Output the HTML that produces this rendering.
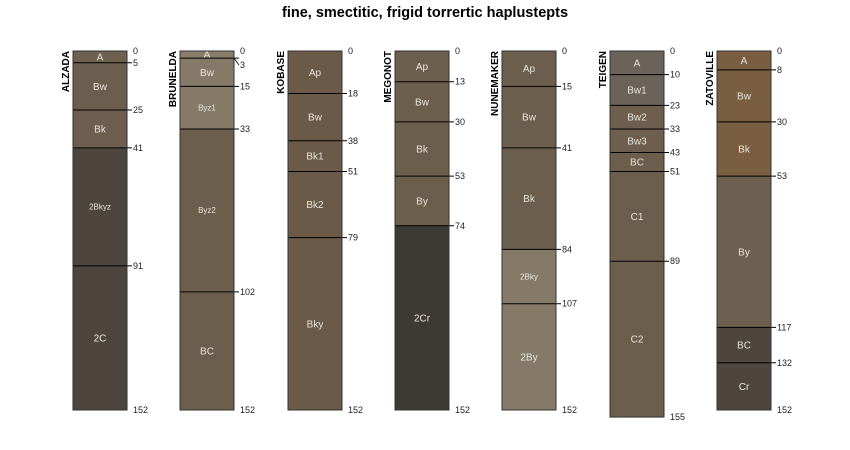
<!DOCTYPE html>
<html><head><meta charset="utf-8"><style>
html,body{margin:0;padding:0;background:#fff}
svg{display:block;font-family:"Liberation Sans",sans-serif}
</style></head><body>
<svg id="c" width="850" height="450" viewBox="0 0 850 450">
<text x="425" y="17" text-anchor="middle" font-size="14.5" font-weight="bold" fill="#000">fine, smectitic, frigid torrertic haplustepts</text>
</svg>
<script>
const profileNames = ["ALZADA","BRUNELDA","KOBASE","MEGONOT","NUNEMAKER","TEIGEN","ZATOVILLE"];
const horizonNames = [
 ["A","Bw","Bk","2Bkyz","2C"],
 ["A","Bw","Byz1","Byz2","BC"],
 ["Ap","Bw","Bk1","Bk2","Bky"],
 ["Ap","Bw","Bk","By","2Cr"],
 ["Ap","Bw","Bk","2Bky","2By"],
 ["A","Bw1","Bw2","Bw3","BC","C1","C2"],
 ["A","Bw","Bk","By","BC","Cr"]
];
const horizonDepths = [
 [0,5,25,41,91,152],
 [0,3,15,33,102,152],
 [0,18,38,51,79,152],
 [0,13,30,53,74,152],
 [0,15,41,84,107,152],
 [0,10,23,33,43,51,89,155],
 [0,8,30,53,117,132,152]
];
const horizonColors = [
 ["#6e604f","#6c5e4e","#6e5e50","#4e463e","#4e463e"],
 ["#8a7d6a","#857a68","#857a68","#6c5e4c","#6c5e4c"],
 ["#6a5a47","#6a5a47","#6a5a47","#6a5a47","#6a5a47"],
 ["#6c5e4c","#6c5e4c","#6c5e4c","#6c5e4c","#3d3a33"],
 ["#6c5e4c","#6c5e4c","#6c5e4c","#857a68","#857a68"],
 ["#6b625a","#6b625a","#6e5e4e","#6e5e4e","#6c5e4c","#6c5e4c","#6c5e4c"],
 ["#7a5e42","#7a5e42","#7a5e42","#6e6050","#4e463e","#4e463e"]
];
const NS="http://www.w3.org/2000/svg";
const svg=document.getElementById('c');
const top0=51, pxPerCm=359/152, x0=73, dx=107.3, w=54;
const y=d=>top0+d*pxPerCm;
function mk(t,a,p){const e=document.createElementNS(NS,t);for(const k in a)e.setAttribute(k,a[k]);(p||svg).appendChild(e);return e;}
profileNames.forEach((nm,i)=>{
 const g=mk('g',{});
 
 
 const xl=Math.round(x0+i*dx), xr=xl+w;
 const ds=horizonDepths[i];
 for(let j=0;j<ds.length-1;j++){
  const r=mk('rect',{x:xl,y:y(ds[j]),width:w,height:y(ds[j+1])-y(ds[j]),fill:horizonColors[i][j]},g);
  
  
  const h=y(ds[j+1])-y(ds[j]);
  const nmh=horizonNames[i][j];
  const fs=(nmh.length>=4||nmh==="Byz1")?8:10;
  const t=mk('text',{x:xl+w/2,y:y(ds[j])+h/2+fs*0.35,'text-anchor':'middle','font-size':fs,fill:'#e8e4dc'},g);
  t.textContent=nmh;
  
  
  if(j>0){const l=mk('line',{x1:xl,x2:xr+5,y1:y(ds[j]),y2:y(ds[j]),stroke:'#000','stroke-width':1},g);
   }
 }
 mk('rect',{x:xl,y:top0,width:w,height:y(ds[ds.length-1])-top0,fill:'none',stroke:'#333','stroke-width':1},g);
 ds.forEach((d,k)=>{
  let ly=y(d);
  if(i==1&&k==1){ly=y(d)+7;mk('line',{x1:xr,y1:y(d),x2:xr+5,y2:ly,stroke:'#000','stroke-width':0.8},g);}
  const t=mk('text',{x:xr+6,y:ly+3,'font-size':9,fill:'#222'},g);
  t.textContent=d;
  
  
 });
 const nt=mk('text',{x:0,y:0,'font-size':10,'font-weight':'bold','text-anchor':'end',fill:'#000',transform:`translate(${xl-4},${top0}) rotate(-90)`},g);
 nt.textContent=nm;
 
 
});
</script>
</body></html>
